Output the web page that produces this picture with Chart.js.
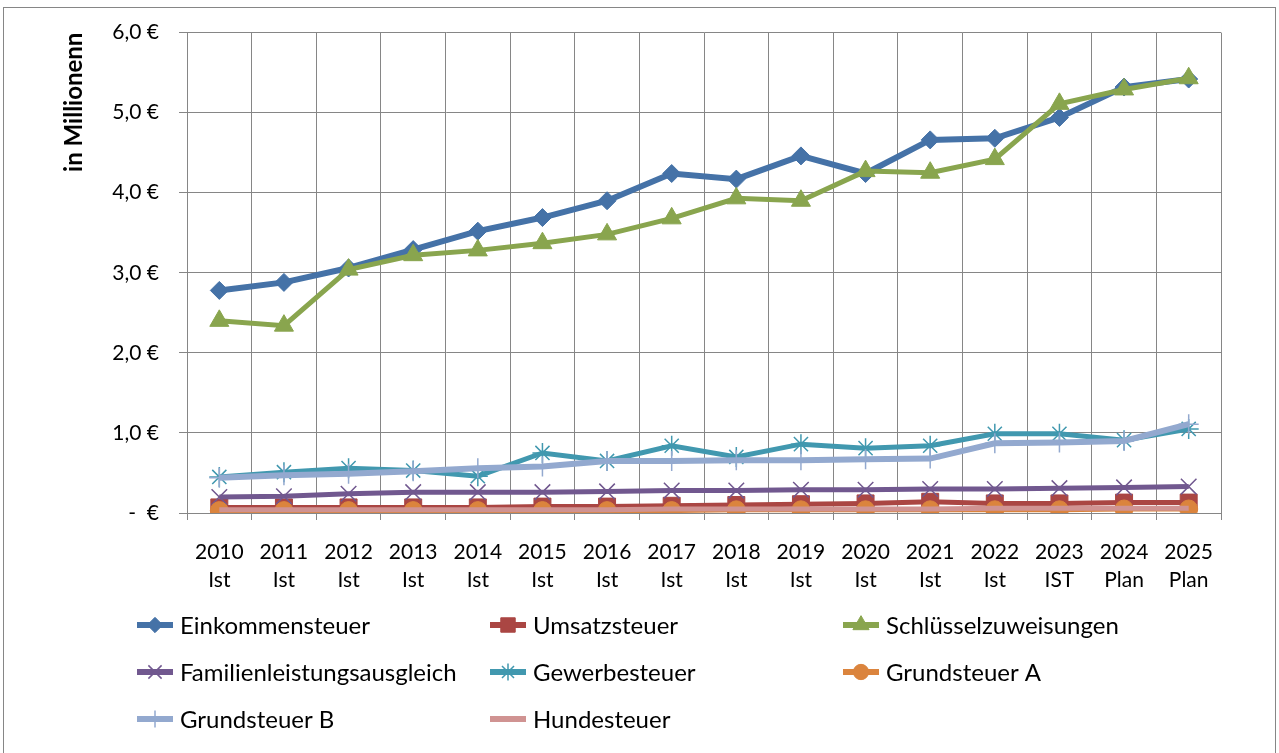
<!DOCTYPE html>
<html>
<head>
<meta charset="utf-8">
<script src="https://cdn.jsdelivr.net/npm/chart.js@4.4.1/dist/chart.umd.min.js"></script>
<style>
  html, body { margin: 0; padding: 0; background: #fff; }
  #wrap { position: relative; width: 1279px; height: 753px; overflow: hidden; }
  #frame { position: absolute; left: 3px; top: 7px; width: 1271px; height: 800px; border: 1px solid #868686; }
  canvas { position: absolute; left: 0; top: 0; }
</style>
</head>
<body>
<div id="wrap">
  <div id="frame"></div>
  <canvas id="chart" width="1279" height="753"></canvas>
</div>
<script>
// categories
const years = ["2010", "2011", "2012", "2013", "2014", "2015", "2016", "2017",
               "2018", "2019", "2020", "2021", "2022", "2023", "2024", "2025"];
const kinds = ["Ist", "Ist", "Ist", "Ist", "Ist", "Ist", "Ist", "Ist",
               "Ist", "Ist", "Ist", "Ist", "Ist", "IST", "Plan", "Plan"];

// values in Mio. €
const einkommensteuer = [2.78, 2.88, 3.06, 3.29, 3.52, 3.69, 3.90, 4.24, 4.17, 4.46, 4.24, 4.66, 4.68, 4.94, 5.32, 5.42];
const umsatzsteuer = [0.07, 0.07, 0.07, 0.07, 0.07, 0.08, 0.08, 0.09, 0.10, 0.11, 0.12, 0.14, 0.12, 0.12, 0.13, 0.13];
const schluesselzuweisungen = [2.40, 2.34, 3.04, 3.22, 3.28, 3.37, 3.48, 3.68, 3.93, 3.90, 4.27, 4.25, 4.42, 5.11, 5.29, 5.43];
const familienleistung = [0.20, 0.21, 0.24, 0.26, 0.26, 0.26, 0.27, 0.28, 0.28, 0.29, 0.29, 0.30, 0.30, 0.31, 0.32, 0.33];
const gewerbesteuer = [0.45, 0.51, 0.56, 0.53, 0.46, 0.75, 0.65, 0.84, 0.70, 0.86, 0.81, 0.84, 0.99, 0.99, 0.91, 1.05];
const grundsteuerA = [0.03, 0.03, 0.03, 0.03, 0.03, 0.03, 0.03, 0.03, 0.04, 0.04, 0.04, 0.04, 0.04, 0.04, 0.05, 0.05];
const grundsteuerB = [0.44, 0.47, 0.49, 0.52, 0.56, 0.58, 0.65, 0.65, 0.66, 0.66, 0.67, 0.68, 0.87, 0.88, 0.90, 1.11];
const hundesteuer = [0.04, 0.04, 0.04, 0.04, 0.04, 0.04, 0.04, 0.05, 0.05, 0.05, 0.05, 0.05, 0.06, 0.06, 0.06, 0.06];

// y ticks
const yTicks = [0, 1, 2, 3, 4, 5, 6];

const labels = years.map((y, i) => [y, kinds[i]]);
const FONT = "Lato, 'Open Sans', sans-serif";

function series(label, data, color, style, radius, width, pw) {
  return {
    label: label,
    data: data,
    borderColor: color,
    backgroundColor: color,
    borderWidth: width,
    pointStyle: style,
    pointRadius: style ? radius : 0,
    pointBackgroundColor: color,
    pointBorderColor: color,
    pointBorderWidth: pw,
    pointHoverRadius: radius,
    tension: 0,
    fill: false
  };
}

const datasets = [
  series("Einkommensteuer", einkommensteuer, "#4572a7", "rectRot", 9, 6, 1),
  series("Umsatzsteuer", umsatzsteuer, "#aa4643", "rect", 12, 5, 1),
  series("Schlüsselzuweisungen", schluesselzuweisungen, "#89a54e", "triangle", 11, 5, 1),
  series("Familienleistungsausgleich", familienleistung, "#71588f", "crossRot", 11, 5, 1.5),
  series("Gewerbesteuer", gewerbesteuer, "#4198af", "star", 10, 5, 1.5),
  series("Grundsteuer A", grundsteuerA, "#db843d", "circle", 9, 5, 1),
  series("Grundsteuer B", grundsteuerB, "#93a9cf", "cross", 10, 6, 1.5),
  series("Hundesteuer", hundesteuer, "#d09392", false, 0, 5, 1)
];
// later series drawn on top, like Excel
datasets.forEach((d, i) => { d.order = datasets.length - i; });

const legendPlugin = {
  id: "excelLegend",
  afterDraw(chart) {
    const ctx = chart.ctx;
    const colX = [137, 490, 843];
    const rowY = [625, 672, 719];
    chart.data.datasets.forEach((ds, i) => {
      const x = colX[i % 3], y = rowY[Math.floor(i / 3)];
      ctx.save();
      ctx.strokeStyle = ds.borderColor;
      ctx.lineWidth = 6;
      ctx.beginPath();
      ctx.moveTo(x, y);
      ctx.lineTo(x + 36, y);
      ctx.stroke();
      if (ds.pointStyle) {
        ctx.fillStyle = ds.pointBackgroundColor;
        ctx.strokeStyle = ds.pointBorderColor;
        ctx.lineWidth = ds.pointBorderWidth;
        Chart.helpers.drawPoint(ctx, {
          pointStyle: ds.pointStyle, rotation: 0,
          radius: ds.pointRadius * 0.85, borderWidth: ds.pointBorderWidth
        }, x + 18, y);
      }
      ctx.fillStyle = "#000";
      ctx.font = "24px " + FONT;
      ctx.textBaseline = "middle";
      ctx.fillText(ds.label, x + 43, y + 1);
      ctx.restore();
    });
  }
};

new Chart(document.getElementById("chart"), {
  type: "line",
  data: { labels: labels, datasets: datasets },
  options: {
    responsive: false,
    animation: false,
    devicePixelRatio: 1,
    layout: { padding: { top: 30, right: 58, bottom: 150, left: 0 } },
    plugins: {
      legend: { display: false },
      tooltip: { enabled: false }
    },
    scales: {
      x: {
        offset: true,
        grid: { offset: true, color: "#868686", lineWidth: 1, tickLength: 7, drawTicks: true },
        border: { color: "#868686", width: 1 },
        ticks: { color: "#000", font: { family: FONT, size: 21, lineHeight: 1.3 }, padding: 19, maxRotation: 0, autoSkip: false },
        afterFit(scale) { scale.height = 90; }
      },
      y: {
        min: 0,
        max: 6,
        afterBuildTicks(scale) { scale.ticks = yTicks.map(v => ({ value: v })); },
        grid: { color: "#868686", lineWidth: 1, tickLength: 8 },
        border: { color: "#868686", width: 1 },
        ticks: {
          color: "#000",
          font: { family: FONT, size: 21 },
          padding: 20,
          callback: v => v === 0 ? "-  €" : v.toFixed(1).replace(".", ",") + " €"
        },
        title: {
          display: true,
          text: "in Millionenn",
          align: "end",
          color: "#000",
          font: { family: FONT, size: 24, weight: "bold" },
          padding: { top: 60, bottom: 0 }
        },
        afterFit(scale) { scale.width = 187; }
      }
    }
  },
  plugins: [legendPlugin]
});
</script>
</body>
</html>
